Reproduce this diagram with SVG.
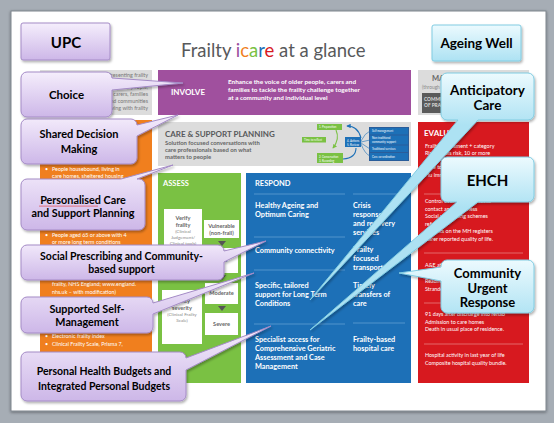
<svg xmlns="http://www.w3.org/2000/svg" width="554" height="423" viewBox="0 0 554 423">
<defs>
<style>
.p{font-family:Lato,'Open Sans','Liberation Sans',sans-serif}
.cl{font-family:Lato,'Liberation Sans',sans-serif;font-weight:700;fill:#000;text-anchor:middle}
.wb{font-family:Lato,'Open Sans',sans-serif;font-weight:700;fill:#fff}
.ws{font-family:Lato,'Open Sans',sans-serif;fill:#fff;font-size:5.4px}
.gb{font-family:Lato,'Open Sans',sans-serif;font-weight:700;fill:#666;text-anchor:middle}
.mini{font-family:Lato,sans-serif;font-size:2.8px;fill:#fff}
.cp{stroke:#a48bc6;stroke-width:1;filter:url(#sh)}
.cc{stroke:#80cce2;stroke-width:1;filter:url(#sh)}
.dv{stroke:#6aa3d6;stroke-width:0.7}
.dr{stroke:#ea8a8a;stroke-width:0.7}
.wbox{fill:#fff}
.tri{fill:#555}
</style>
<linearGradient id="gPb" x1="0" y1="0" x2="0" y2="1"><stop offset="0" stop-color="#f5eefc"/><stop offset="1" stop-color="#cdb7e8"/></linearGradient>
<linearGradient id="gCb" x1="0" y1="0" x2="0" y2="1"><stop offset="0" stop-color="#ecfafe"/><stop offset="1" stop-color="#ade2f3"/></linearGradient>
<linearGradient id="gA" href="#gCb" gradientUnits="userSpaceOnUse" x1="0" y1="73" x2="0" y2="125"/>
<linearGradient id="gE" href="#gCb" gradientUnits="userSpaceOnUse" x1="0" y1="157" x2="0" y2="207"/>
<linearGradient id="gU" href="#gCb" gradientUnits="userSpaceOnUse" x1="0" y1="260" x2="0" y2="318"/>
<filter id="sh" x="-15%" y="-15%" width="135%" height="140%"><feDropShadow dx="1.2" dy="1.8" stdDeviation="1.2" flood-color="#000" flood-opacity="0.3"/></filter>
<filter id="ss" x="-5%" y="-5%" width="110%" height="110%"><feDropShadow dx="0" dy="1" stdDeviation="1.5" flood-color="#000" flood-opacity="0.4"/></filter>
<marker id="ab" viewBox="0 0 6 6" refX="5" refY="3" markerWidth="4" markerHeight="4" orient="auto"><path d="M0,0 L6,3 L0,6 Z" fill="#1d70b7"/></marker>
<marker id="ag" viewBox="0 0 6 6" refX="5" refY="3" markerWidth="4" markerHeight="4" orient="auto"><path d="M0,0 L6,3 L0,6 Z" fill="#7ac143"/></marker>
</defs>

<rect x="0" y="0" width="554" height="423" fill="#a6adb5"/>
<rect x="11" y="11" width="535" height="400" fill="#fff" stroke="#7e858d" stroke-width="1" filter="url(#ss)"/>

<g id="title">
<text class="p" x="181" y="57" font-size="18.5" fill="#58595b">Frailty <tspan fill="#9b4f9f">i</tspan><tspan fill="#f07f1e">c</tspan><tspan fill="#7ac143">a</tspan><tspan fill="#1d70b7">r</tspan><tspan fill="#d7191f">e</tspan> at a glance</text>
</g>

<g id="people-box">
<rect x="40" y="70" width="112" height="45" fill="#dcdcdc"/>
<g class="p" font-size="5.4" fill="#777" text-anchor="end">
<text x="148" y="77">Presenting frailty</text>
<text x="148" y="89">Older people,</text>
<text x="148" y="96">carers, families</text>
<text x="148" y="103">and communities</text>
<text x="148" y="110">living with frailty</text>
</g>
</g>

<g id="involve">
<rect x="158" y="70" width="253" height="45" fill="#a0509e"/>
<text class="wb" x="171" y="95" font-size="8">INVOLVE</text>
<text class="wb" x="228" y="84" font-size="6.4">Enhance the voice of older people, carers and</text>
<text class="wb" x="228" y="92" font-size="6.4">families to tackle the frailty challenge together</text>
<text class="wb" x="228" y="100" font-size="6.4">at a community and individual level</text>
</g>

<g id="manage">
<rect x="418" y="70" width="111" height="45" fill="#dcdcdc"/>
<text class="p" x="432" y="81" font-size="7.5" font-weight="700" fill="#666">MANAGE</text>
<text class="p" x="422" y="89" font-size="4.8" fill="#888">(through</text>
<rect x="422" y="93" width="40" height="20" fill="#5a5a5a"/>
<text class="p" x="424" y="101" font-size="4.8" font-weight="700" fill="#ddd">COMMUNITIES</text>
<text class="p" x="424" y="107" font-size="4.8" font-weight="700" fill="#ddd">OF PRACTICE</text>
</g>

<g id="orange-column">
<rect x="40" y="120" width="112" height="263" fill="#f07f1e"/>
<text class="ws" x="45" y="171">•</text><text class="ws" x="52" y="171">People housebound, living in</text>
<text class="ws" x="52" y="178">care homes, sheltered housing</text>
<text class="ws" x="45" y="237">•</text><text class="ws" x="52" y="237">People aged 65 or above with 4</text>
<text class="ws" x="52" y="244">or more long term conditions</text>
<text class="ws" x="52" y="286">frailty, NHS England; www.england.</text>
<text class="ws" x="52" y="294">nhs.uk – with modification)</text>
<text class="ws" x="45" y="338">•</text><text class="ws" x="52" y="338">Electronic frailty index</text>
<text class="ws" x="45" y="346">•</text><text class="ws" x="52" y="346">Clinical Frailty Scale, Prisma 7,</text>
</g>

<g id="care-support-planning">
<rect x="158" y="122" width="253" height="44" fill="#dcdcdc"/>
<text class="p" x="165" y="137" font-size="8" font-weight="700" fill="#58595b">CARE &amp; SUPPORT PLANNING</text>
<text class="p" x="165" y="145" font-size="5.9" font-weight="700" fill="#666">Solution focused conversations with</text>
<text class="p" x="165" y="152" font-size="5.9" font-weight="700" fill="#666">care professionals based on what</text>
<text class="p" x="165" y="159" font-size="5.9" font-weight="700" fill="#666">matters to people</text>
<rect x="317" y="124" width="25" height="6" fill="#7ac143"/>
<text class="mini" x="319" y="128">1. Preparation</text>
<rect x="302" y="137" width="24" height="5.5" fill="#7ac143"/>
<text class="mini" x="304" y="140.7">Time to reflect</text>
<rect x="317" y="153" width="26" height="10" fill="#7ac143"/>
<text class="mini" x="319" y="157.5">2. Conversation</text>
<text class="mini" x="319" y="161.5">3. Recording</text>
<rect x="345" y="137" width="16" height="10" fill="#1d70b7"/>
<text class="mini" x="347" y="141.5">4. Actions</text>
<text class="mini" x="347" y="145.5">5. Review</text>
<rect x="369" y="127" width="40" height="34" fill="#2a5d9a"/>
<rect x="370" y="128" width="38" height="6.5" fill="#1d70b7"/>
<rect x="370" y="135.5" width="38" height="9" fill="#1d70b7"/>
<rect x="370" y="145.5" width="38" height="6.5" fill="#1d70b7"/>
<rect x="370" y="153" width="38" height="7" fill="#1d70b7"/>
<text class="mini" x="372" y="132.3">Self management</text>
<text class="mini" x="372" y="139.3">Non traditional</text>
<text class="mini" x="372" y="142.8">community support</text>
<text class="mini" x="372" y="149.7">Traditional services</text>
<text class="mini" x="372" y="157.5">Care co-ordination</text>
</g>

<g id="assess">
<rect x="158" y="173" width="83" height="210" fill="#7ac143"/>
<text class="wb" x="163" y="186" font-size="7.5">ASSESS</text>
<rect class="wbox" x="164" y="209" width="38" height="66"/>
<text class="gb" x="183" y="220" font-size="5.6">Verify</text>
<text class="gb" x="183" y="227" font-size="5.6">frailty</text>
<text class="p" x="183" y="233" font-size="4.6" fill="#888" text-anchor="middle">(Clinical</text>
<text class="p" x="183" y="239" font-size="4.6" fill="#888" text-anchor="middle">Judgement/</text>
<text class="p" x="183" y="245" font-size="4.6" fill="#888" text-anchor="middle">Clinical tools)</text>
<rect class="wbox" x="204" y="220" width="35" height="18"/>
<text class="gb" x="221.5" y="228" font-size="5.6">Vulnerable</text>
<text class="gb" x="221.5" y="235" font-size="5.6">(non-frail)</text>
<rect class="wbox" x="205" y="248" width="33" height="25"/>
<text class="gb" x="221.5" y="262" font-size="5.6">Mild</text>
<rect class="wbox" x="205" y="283" width="33" height="21"/>
<text class="gb" x="221.5" y="295" font-size="5.6">Moderate</text>
<rect class="wbox" x="205" y="313" width="33" height="22"/>
<text class="gb" x="221.5" y="325.5" font-size="5.6">Severe</text>
<rect class="wbox" x="162" y="290" width="40" height="54"/>
<text class="gb" x="182" y="303" font-size="5.6">Frailty</text>
<text class="gb" x="182" y="310" font-size="5.6">severity</text>
<text class="p" x="182" y="316" font-size="4.6" fill="#888" text-anchor="middle">(Clinical Frailty</text>
<text class="p" x="182" y="322" font-size="4.6" fill="#888" text-anchor="middle">Scale)</text>
</g>

<g id="respond">
<rect x="246" y="173" width="165" height="210" fill="#1d70b7"/>
<text class="wb" x="255" y="186" font-size="7.5">RESPOND</text>
<g class="wb" font-size="7.3">
<text x="255" y="208">Healthy Ageing and</text>
<text x="255" y="217">Optimum Caring</text>
<text x="255" y="253">Community connectivity</text>
<text x="255" y="288">Specific, tailored</text>
<text x="255" y="297">support for Long Term</text>
<text x="255" y="306">Conditions</text>
<text x="255" y="342">Specialist access for</text>
<text x="255" y="351">Comprehensive Geriatric</text>
<text x="255" y="360">Assessment and Case</text>
<text x="255" y="369">Management</text>
<text x="353" y="208">Crisis</text>
<text x="353" y="217">response</text>
<text x="353" y="226">and recovery</text>
<text x="353" y="235">services</text>
<text x="353" y="252">Frailty</text>
<text x="353" y="261">focused</text>
<text x="353" y="270">transport</text>
<text x="353" y="288">Timely</text>
<text x="353" y="297">transfers of</text>
<text x="353" y="306">care</text>
<text x="353" y="342">Frailty-based</text>
<text x="353" y="351">hospital care</text>
</g>
<line class="dv" x1="254" y1="194" x2="345" y2="194"/>
<line class="dv" x1="353" y1="194" x2="405" y2="194"/>
<line class="dv" x1="254" y1="237" x2="345" y2="237"/>
<line class="dv" x1="254" y1="270" x2="345" y2="270"/>
<line class="dv" x1="254" y1="324" x2="345" y2="324"/>
<line class="dv" x1="353" y1="323" x2="405" y2="323"/>
</g>

<g id="evaluate">
<rect x="418" y="122" width="111" height="261" fill="#d7191f"/>
<text class="wb" x="424" y="136" font-size="8">EVALUATE</text>
<text class="ws" x="425" y="148">Frailty assessment + category</text>
<text class="ws" x="425" y="155">Risk of falls risk, 10 or more</text>
<text class="ws" x="425" y="169">Able to self-manage</text>
<text class="ws" x="425" y="177">Flu immunisation</text>
<line class="dr" x1="424" y1="194" x2="523" y2="194"/>
<text class="ws" x="425" y="203">Control over daily life, social</text>
<text class="ws" x="425" y="210.5">contact and loneliness</text>
<text class="ws" x="425" y="218">Social prescribing schemes</text>
<text class="ws" x="425" y="225.5">referrals</text>
<text class="ws" x="425" y="233">Patients on the MH registers</text>
<text class="ws" x="425" y="240.5">Carer reported quality of life.</text>
<line class="dr" x1="424" y1="253" x2="523" y2="253"/>
<text class="ws" x="425" y="267">A&amp;E atten</text>
<text class="ws" x="425" y="283">Readmiss</text>
<text class="ws" x="425" y="290.5">Stranded</text>
<line class="dr" x1="424" y1="303" x2="523" y2="303"/>
<text class="ws" x="425" y="316">91 days after discharge into rehab</text>
<text class="ws" x="425" y="323.5">Admission to care homes</text>
<text class="ws" x="425" y="331">Death in usual place of residence.</text>
<line class="dr" x1="424" y1="344" x2="523" y2="344"/>
<text class="ws" x="425" y="357">Hospital activity in last year of life</text>
<text class="ws" x="425" y="364.5">Composite hospital quality bundle.</text>
</g>

<g id="connectors" fill="none" stroke-width="1.1">
<path d="M361,138 Q358,126 347,126" stroke="#1d70b7" marker-end="url(#ab)"/>
<path d="M336,130 Q340,139 333,148" stroke="#7ac143" marker-end="url(#ag)"/>
<path d="M343,159 Q356,158 356,148" stroke="#1d70b7"/>
<path d="M361,141 Q365,133 370,131" stroke="#1d70b7" stroke-width="0.6"/>
<path d="M361,142 L370,140" stroke="#1d70b7" stroke-width="0.6"/>
<path d="M361,143 L370,149" stroke="#1d70b7" stroke-width="0.6"/>
<path d="M361,144 Q365,154 370,156" stroke="#1d70b7" stroke-width="0.6"/>
<path d="M218,241 L226,241 L222,246 Z" class="tri" stroke="none"/>
<path d="M218,275 L226,275 L222,280 Z" class="tri" stroke="none"/>
<path d="M218,306 L226,306 L222,311 Z" class="tri" stroke="none"/>
</g>

<g id="upc">
<rect x="21" y="23" width="89" height="37" rx="2" fill="url(#gPb)" class="cp"/>
<text class="cl" x="66" y="48" font-size="15">UPC</text>
</g>

<g id="ageing-well">
<rect x="432" y="25" width="89" height="36" rx="2" fill="url(#gCb)" class="cc"/>
<text class="cl" x="476.5" y="48" font-size="13.5">Ageing Well</text>
</g>

<g id="callout-choice">
<path class="cp" fill="url(#gPb)" d="M27,72 H106 A6,6 0 0 1 112,78 L183,83 L112,90 V111 A6,6 0 0 1 106,117 H27 A6,6 0 0 1 21,111 V78 A6,6 0 0 1 27,72 Z"/>
<text class="cl" x="66.5" y="99" font-size="11.5">Choice</text>
</g>

<g id="callout-shared">
<path class="cp" fill="url(#gPb)" d="M27,119 H131 A6,6 0 0 1 137,125 L178,115 L137,136 V158 A6,6 0 0 1 131,164 H27 A6,6 0 0 1 21,158 V125 A6,6 0 0 1 27,119 Z"/>
<text class="cl" x="79" y="138" font-size="11">Shared Decision</text>
<text class="cl" x="79" y="153" font-size="11">Making</text>
</g>

<g id="callout-personalised">
<path class="cp" fill="url(#gPb)" d="M27,179 H121 L173,165 L137,179 H139 A6,6 0 0 1 145,185 V224 A6,6 0 0 1 139,230 H27 A6,6 0 0 1 21,224 V185 A6,6 0 0 1 27,179 Z"/>
<text class="cl" x="83" y="204" font-size="10.8">Personalised Care</text>
<text class="cl" x="83" y="217" font-size="10.8">and Support Planning</text>
<path d="M39,206.5 l1,-0.8 l1,0.8 l1,-0.8 l1,0.8 l1,-0.8 l1,0.8 l1,-0.8 l1,0.8 l1,-0.8 l1,0.8 l1,-0.8 l1,0.8 l1,-0.8 l1,0.8 l1,-0.8 l1,0.8 l1,-0.8 l1,0.8 l1,-0.8 l1,0.8 l1,-0.8 l1,0.8 l1,-0.8 l1,0.8 l1,-0.8 l1,0.8 l1,-0.8 l1,0.8 l1,-0.8 l1,0.8 l1,-0.8 l1,0.8 l1,-0.8 l1,0.8 l1,-0.8 l1,0.8 l1,-0.8 l1,0.8 l1,-0.8 l1,0.8 l1,-0.8 l1,0.8 l1,-0.8 l1,0.8 l1,-0.8 l1,0.8 l1,-0.8 l1,0.8 l1,-0.8 l1,0.8 l1,-0.8 l1,0.8 l1,-0.8 l1,0.8 l1,-0.8 l1,0.8 l1,-0.8 l1,0.8 l1,-0.8" fill="none" stroke="#e03030" stroke-width="0.6"/>
</g>

<g id="callout-social">
<path class="cp" fill="url(#gPb)" d="M27,245 H218 A6,6 0 0 1 224,251 L266,241 L224,262 V274 A6,6 0 0 1 218,280 H27 A6,6 0 0 1 21,274 V251 A6,6 0 0 1 27,245 Z"/>
<text class="cl" x="121.5" y="260" font-size="10.5">Social Prescribing and Community-</text>
<text class="cl" x="121.5" y="273" font-size="10.5">based support</text>
</g>

<g id="callout-self">
<path class="cp" fill="url(#gPb)" d="M27,297 H147 A6,6 0 0 1 153,303 L254,273 L153,314 V327 A6,6 0 0 1 147,333 H27 A6,6 0 0 1 21,327 V303 A6,6 0 0 1 27,297 Z"/>
<text class="cl" x="87" y="313" font-size="10.8">Supported Self-</text>
<text class="cl" x="87" y="326" font-size="10.8">Management</text>
</g>

<g id="callout-budgets">
<path class="cp" fill="url(#gPb)" d="M27,352 H180 A6,6 0 0 1 186,358 L271,326 L186,370 V395 A6,6 0 0 1 180,401 H27 A6,6 0 0 1 21,395 V358 A6,6 0 0 1 27,352 Z"/>
<text class="cl" x="104" y="375" font-size="10.5">Personal Health Budgets and</text>
<text class="cl" x="104" y="390" font-size="10.5">Integrated Personal Budgets</text>
</g>

<g id="callout-anticipatory">
<path class="cc" fill="url(#gA)" d="M447,73 H528 A6,6 0 0 1 534,79 V114 A6,6 0 0 1 528,120 H478 L310,300 L458,120 H447 A6,6 0 0 1 441,114 V79 A6,6 0 0 1 447,73 Z"/>
<text class="cl" x="487.5" y="95" font-size="13.5">Anticipatory</text>
<text class="cl" x="487.5" y="110" font-size="13.5">Care</text>
</g>

<g id="callout-ehch">
<path class="cc" fill="url(#gE)" d="M447,157 H528 A6,6 0 0 1 534,163 V196 A6,6 0 0 1 528,202 H478 L310,330 L457,202 H447 A6,6 0 0 1 441,196 V163 A6,6 0 0 1 447,157 Z"/>
<text class="cl" x="487.5" y="186" font-size="15">EHCH</text>
</g>

<g id="callout-urgent">
<path class="cc" fill="url(#gU)" d="M447,260 H528 A6,6 0 0 1 534,266 V307 A6,6 0 0 1 528,313 H447 A6,6 0 0 1 441,307 V281 L399,273 L441,267 V266 A6,6 0 0 1 447,260 Z"/>
<text class="cl" x="487.5" y="278" font-size="13">Community</text>
<text class="cl" x="487.5" y="292.5" font-size="13">Urgent</text>
<text class="cl" x="487.5" y="307" font-size="13">Response</text>
</g>
</svg>
